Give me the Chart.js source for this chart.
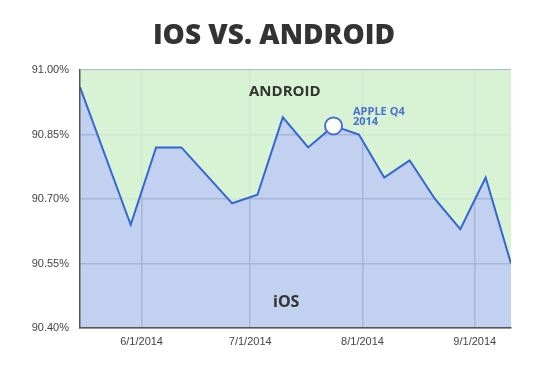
<!doctype html>
<html lang="en">
<head>
<meta charset="utf-8">
<title>IOS VS. ANDROID</title>
<style>
  html, body { margin: 0; padding: 0; background: #fff; overflow: hidden; }
  #wrap { position: relative; width: 544px; height: 376px; }
  canvas { display: block; }
  #title {
    position: absolute; left: 0; top: 13px; width: 548px; margin: 0;
    text-align: center; font: 800 28px/40px "Open Sans", sans-serif; color: #333;
  }
</style>
</head>
<body>
<div id="wrap">
  <canvas id="myChart" width="544" height="376"></canvas>
  <h1 id="title">IOS VS. ANDROID</h1>
</div>

<script src="https://cdn.jsdelivr.net/npm/chart.js"></script>
<script>
// setup - weekly share values
const weeks = ['2014-05-15', '2014-05-22', '2014-05-29', '2014-06-05', '2014-06-12', '2014-06-19',
               '2014-06-26', '2014-07-03', '2014-07-10', '2014-07-17', '2014-07-24', '2014-07-31',
               '2014-08-07', '2014-08-14', '2014-08-21', '2014-08-28', '2014-09-04', '2014-09-11'];
const iosShare = [90.96, 90.80, 90.64, 90.82, 90.82, 90.755,
                  90.69, 90.71, 90.89, 90.82, 90.87, 90.85,
                  90.75, 90.79, 90.70, 90.63, 90.75, 90.55];
const xTickDates = ['2014-06-01', '2014-07-01', '2014-08-01', '2014-09-01'];
const xTickLabels = ['6/1/2014', '7/1/2014', '8/1/2014', '9/1/2014'];
const yTicks = [90.40, 90.55, 90.70, 90.85, 91.00];
const highlightIndex = 10; // Apple Q4 2014 marker

const dayNum = (s) => Math.round(Date.parse(s + 'T00:00:00Z') / 86400000);
const points = weeks.map((d, i) => ({ x: dayNum(d), y: iosShare[i] }));
const tickDays = xTickDates.map(dayNum);

// text inside the plot area
const areaLabels = {
  id: 'areaLabels',
  afterDatasetsDraw(chart) {
    const ctx = chart.ctx;
    ctx.save();
    ctx.textBaseline = 'middle';
    ctx.textAlign = 'left';
    ctx.fillStyle = '#333';
    ctx.font = 'bold 15px "Open Sans"';
    ctx.fillText('ANDROID', 249, 92);
    ctx.font = 'bold 16px "Open Sans"';
    ctx.fillText('iOS', 273, 302);
    ctx.fillStyle = '#4a70cf';
    ctx.font = 'bold 11px "Open Sans"';
    ctx.fillText('APPLE Q4', 353, 112);
    ctx.fillText('2014', 353, 122);
    ctx.restore();
  }
};

// grid sits under semi-transparent fills: faint in green, stronger in blue
const gridColor = 'rgb(180, 183, 205)';

const config = {
  type: 'line',
  data: {
    datasets: [{
      label: 'iOS',
      order: 0,
      data: points,
      borderColor: 'rgb(51, 102, 212)',
      borderWidth: 2,
      tension: 0,
      fill: 'start',
      backgroundColor: 'rgba(155, 178, 230, 0.6)',
      pointRadius: (c) => c.dataIndex === highlightIndex ? 8.5 : 0,
      pointBorderWidth: 2,
      pointBackgroundColor: '#fff',
      pointBorderColor: 'rgb(70, 112, 210)'
    }, {
      label: 'Android',
      order: 1,
      data: points,
      borderWidth: 0,
      pointRadius: 0,
      fill: 'end',
      backgroundColor: 'rgba(210, 240, 206, 0.87)'
    }]
  },
  plugins: [areaLabels],
  options: {
    responsive: false,
    animation: false,
    layout: { padding: { left: 0, right: 33, top: 70, bottom: 0 } },
    plugins: {
      legend: { display: false },
      tooltip: { enabled: false },
      title: { display: false }
    },
    scales: {
      x: {
        type: 'linear',
        min: dayNum(weeks[0]),
        max: dayNum(weeks[weeks.length - 1]),
        afterBuildTicks: (scale) => { scale.ticks = tickDays.map(v => ({ value: v })); },
        afterFit: (scale) => { scale.height = 48; },
        ticks: {
          autoSkip: false,
          maxRotation: 0,
          padding: 7,
          color: '#444',
          font: { family: '"Liberation Sans", Arial', size: 11 },
          callback: (v) => xTickLabels[tickDays.indexOf(v)] || ''
        },
        grid: { color: gridColor, lineWidth: 1.5, drawTicks: false },
        border: { color: '#555', width: 1.5, z: 2 }
      },
      y: {
        min: yTicks[0],
        max: yTicks[yTicks.length - 1],
        afterBuildTicks: (scale) => { scale.ticks = yTicks.map(v => ({ value: v })); },
        afterFit: (scale) => { scale.width = 80; },
        ticks: {
          autoSkip: false,
          padding: 11,
          color: '#444',
          font: { family: '"Liberation Sans", Arial', size: 11 },
          callback: (v) => v.toFixed(2) + '%'
        },
        grid: { color: gridColor, lineWidth: 1.5, drawTicks: false },
        border: { color: '#555', width: 1.5, z: 2 }
      }
    }
  }
};

// render init block
const myChart = new Chart(document.getElementById('myChart'), config);
</script>
</body>
</html>
